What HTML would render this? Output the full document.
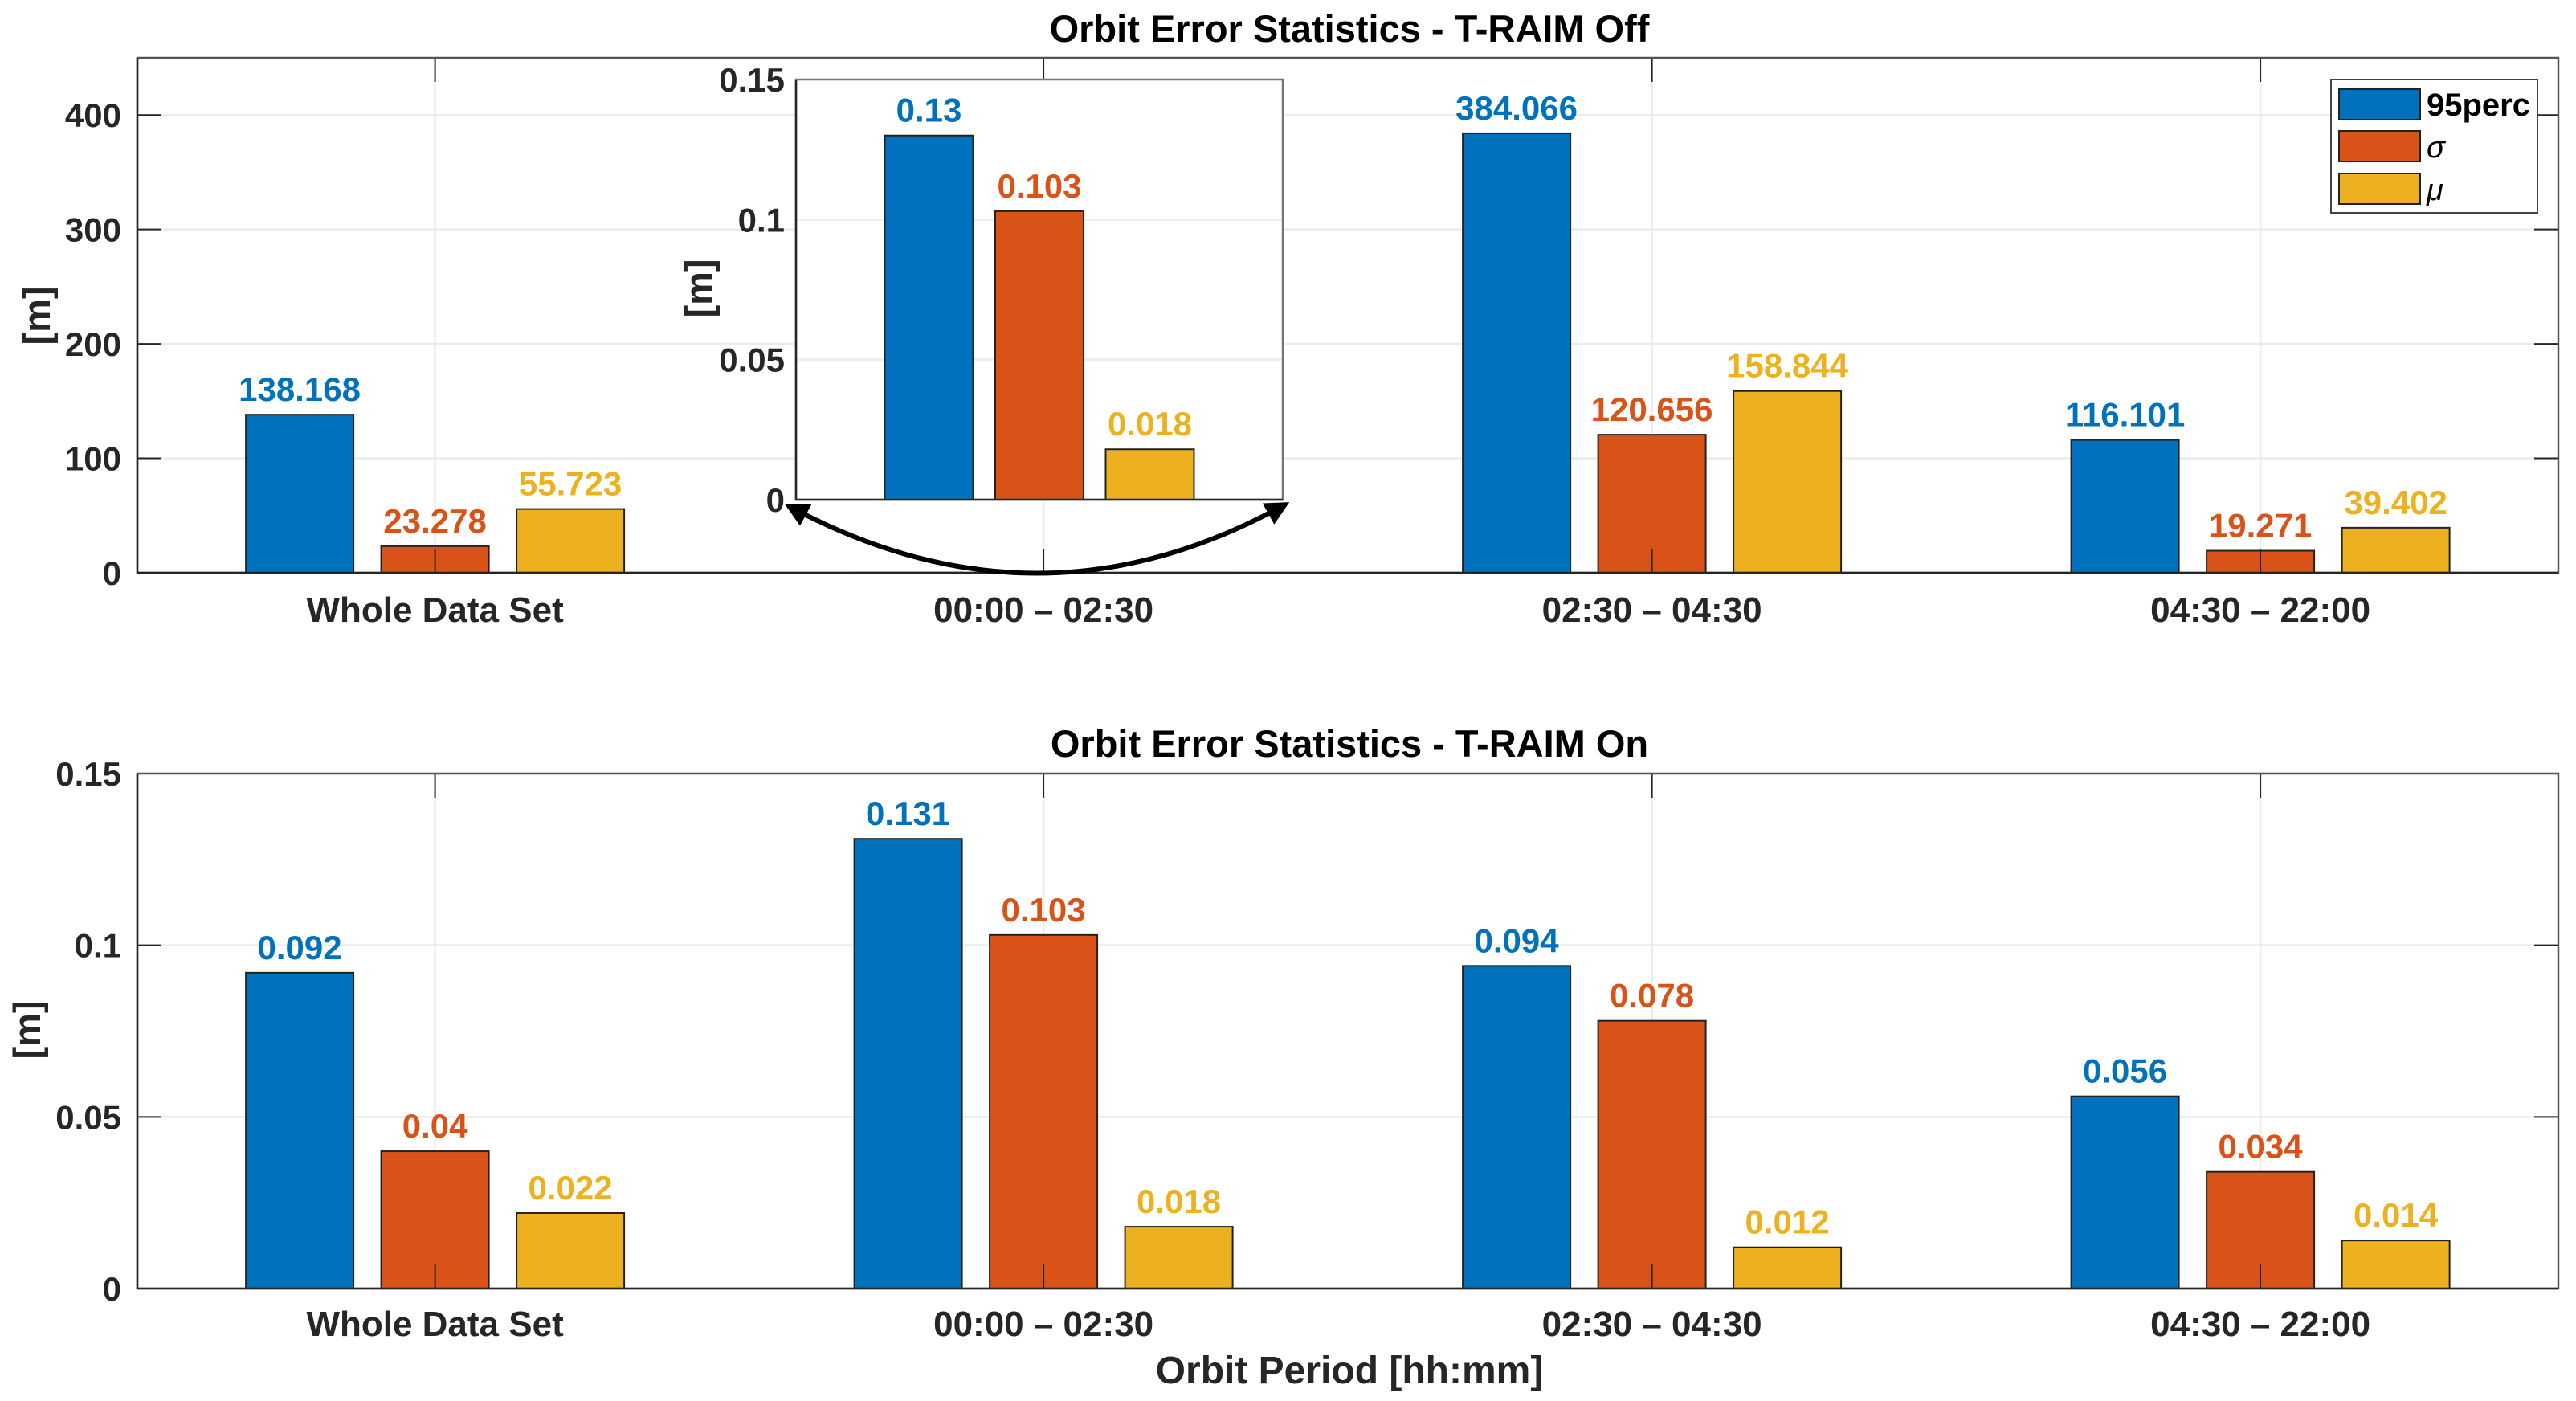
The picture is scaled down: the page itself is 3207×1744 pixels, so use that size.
<!DOCTYPE html>
<html><head><meta charset="utf-8"><style>
html,body{margin:0;padding:0;background:#fff}
svg{display:block;font-family:"Liberation Sans",Arial,sans-serif;font-weight:bold}
</style></head><body>
<svg id="chart" width="3207" height="1744" viewBox="0 0 3207 1744" xmlns="http://www.w3.org/2000/svg">
<defs>
<marker id="ah" viewBox="0 0 10 10" refX="8" refY="5" markerWidth="5" markerHeight="5" orient="auto-start-reverse"><path d="M0,0 L10,5 L0,10 z" fill="#000"/></marker>
</defs>
</svg>
<script>
const categories = ["Whole Data Set","00:00 \u2013 02:30","02:30 \u2013 04:30","04:30 \u2013 22:00"];
const seriesNames = ["95perc","\u03c3","\u03bc"];
const offP95 = [138.168, 0.13, 384.066, 116.101];
const offSigma = [23.278, 0.103, 120.656, 19.271];
const offMu = [55.723, 0.018, 158.844, 39.402];
const offLabelsP95 = ["138.168","","384.066","116.101"];
const offLabelsSigma = ["23.278","","120.656","19.271"];
const offLabelsMu = ["55.723","","158.844","39.402"];
const onP95 = [0.092, 0.131, 0.094, 0.056];
const onSigma = [0.04, 0.103, 0.078, 0.034];
const onMu = [0.022, 0.018, 0.012, 0.014];
const insetValues = [0.13, 0.103, 0.018];
const insetLabels = ["0.13","0.103","0.018"];
const offTicks = [0, 100, 200, 300, 400];
const offTickLabels = ["0","100","200","300","400"];
const onTicks = [0, 0.05, 0.1, 0.15];
const onTickLabels = ["0","0.05","0.1","0.15"];

const colors = ["#0072BD","#D95319","#EDB120"];
const NS = "http://www.w3.org/2000/svg";
const svg = document.getElementById("chart");
function el(tag, attrs, parent, text){
  const e = document.createElementNS(NS, tag);
  for (const k in attrs) e.setAttribute(k, attrs[k]);
  if (text !== undefined) e.textContent = text;
  (parent||svg).appendChild(e);
  return e;
}

function drawAxes(cfg){
  const g = el("g", {});
  
  
  const yS = v => cfg.y0 - (v/cfg.ymax)*(cfg.y0-cfg.y1);
  const xC = i => cfg.c0 + cfg.step*i;
  el("rect",{x:cfg.x0,y:cfg.y1,width:cfg.x1-cfg.x0,height:cfg.y0-cfg.y1,fill:"#fff"},g);
  cfg.ticks.forEach((t,k)=>{
    const y = yS(t);
    if (k>0) { const gl = el("line",{x1:cfg.x0,x2:cfg.x1,y1:y,y2:y,stroke:"#ebebeb","stroke-width":2.5},g);
        }
    const tl = el("text",{x:cfg.tickX,y:y+15,"text-anchor":"end","font-size":42,fill:"#262626"},g,cfg.tickLabels[k]);
    
    
    el("line",{x1:cfg.x0,x2:cfg.x0+cfg.tl,y1:y,y2:y,stroke:"#262626","stroke-width":2},g);
    el("line",{x1:cfg.x1,x2:cfg.x1-cfg.tl,y1:y,y2:y,stroke:"#262626","stroke-width":2},g);
  });
  for (let i=0;i<cfg.n;i++){
    const x = xC(i);
    if (cfg.vgrid){ const vg = el("line",{x1:x,x2:x,y1:cfg.y1,y2:cfg.y0,stroke:"#ebebeb","stroke-width":2.5},g);
        }
  }
  cfg.series.forEach((vals,s)=>{
    vals.forEach((v,i)=>{
      const x = xC(i) + cfg.offs[s] - cfg.bw/2;
      const y = yS(v);
      const r = el("rect",{x:x,y:y,width:cfg.bw,height:cfg.y0-y,fill:colors[s],stroke:"#222","stroke-width":2},g);
      
      
      const lab = cfg.labels[s][i];
      if (lab){
        const t = el("text",{x:xC(i)+cfg.offs[s],y:y-17,"text-anchor":"middle","font-size":42,fill:colors[s]},g,lab);
        
        
      }
    });
  });
  for (let i=0;i<cfg.n;i++){
    const x = xC(i);
    el("line",{x1:x,x2:x,y1:cfg.y1,y2:cfg.y1+cfg.tl,stroke:"#262626","stroke-width":2},g);
    el("line",{x1:x,x2:x,y1:cfg.y0,y2:cfg.y0-cfg.tl,stroke:"#262626","stroke-width":2},g);
    if (cfg.cats){
      const t = el("text",{x:x,y:cfg.catY,"text-anchor":"middle","font-size":44,fill:"#262626"},g,cfg.cats[i]);
      
      
    }
  }
  const fr = el("rect",{x:cfg.x0,y:cfg.y1,width:cfg.x1-cfg.x0,height:cfg.y0-cfg.y1,fill:"none",stroke:cfg.frame||"#555","stroke-width":2.5},g);
  
  
  el("line",{x1:cfg.x0,x2:cfg.x1,y1:cfg.y0,y2:cfg.y0,stroke:"#262626","stroke-width":2.5},g);
  el("line",{x1:cfg.x0,x2:cfg.x0,y1:cfg.y1,y2:cfg.y0,stroke:"#262626","stroke-width":2.5},g);
  return g;
}

drawAxes({name:"top-axes",x0:171,x1:3185,y1:72,y0:713,ymax:450,c0:541.6,step:757.5,n:4,bw:134,offs:[-168.5,0,168.5],
  series:[offP95,offSigma,offMu],labels:[offLabelsP95,offLabelsSigma,offLabelsMu],
  ticks:offTicks,tickLabels:offTickLabels,tickX:151,tl:30,vgrid:true,cats:categories,catY:774});
drawAxes({name:"bottom-axes",x0:171,x1:3185,y1:963,y0:1604,ymax:0.15,c0:541.6,step:757.5,n:4,bw:134,offs:[-168.5,0,168.5],
  series:[onP95,onSigma,onMu],labels:[onP95.map(String),onSigma.map(String),onMu.map(String)],
  ticks:onTicks,tickLabels:onTickLabels,tickX:151,tl:30,vgrid:true,cats:categories,catY:1663});
drawAxes({name:"inset-axes",x0:991,x1:1597,y1:99,y0:622,ymax:0.15,c0:1294,step:0,n:1,bw:110,offs:[-137.5,0,137.5],
  series:[[insetValues[0]],[insetValues[1]],[insetValues[2]]],labels:[[insetLabels[0]],[insetLabels[1]],[insetLabels[2]]],
  ticks:onTicks,tickLabels:onTickLabels,tickX:977,tl:0,vgrid:false,frame:"#777"});

const arr = el("path",{d:"M 982 630 Q 1294 798 1600 628",fill:"none",stroke:"#000","stroke-width":6,"marker-start":"url(#ah)","marker-end":"url(#ah)"});



let t;
t = el("text",{x:1680,y:52,"text-anchor":"middle","font-size":47,fill:"#000"},svg,"Orbit Error Statistics - T-RAIM Off");
 
t = el("text",{x:1680,y:942,"text-anchor":"middle","font-size":47,fill:"#000"},svg,"Orbit Error Statistics - T-RAIM On");
 
t = el("text",{x:1680,y:1722,"text-anchor":"middle","font-size":48,fill:"#262626"},svg,"Orbit Period [hh:mm]");
 
t = el("text",{x:0,y:0,"text-anchor":"middle","font-size":47,fill:"#262626",transform:"translate(62,393) rotate(-90)"},svg,"[m]");
 
t = el("text",{x:0,y:0,"text-anchor":"middle","font-size":47,fill:"#262626",transform:"translate(50,1282) rotate(-90)"},svg,"[m]");
 
t = el("text",{x:0,y:0,"text-anchor":"middle","font-size":47,fill:"#262626",transform:"translate(886,359) rotate(-90)"},svg,"[m]");
 

const lg = el("g",{});


el("rect",{x:2902,y:99,width:257,height:166,fill:"#fff",stroke:"#444","stroke-width":2},lg);
const rowsY = [111,163,216];
seriesNames.forEach((nm,s)=>{
  const sw = el("rect",{x:2912,y:rowsY[s],width:101,height:38,fill:colors[s],stroke:"#222","stroke-width":2},lg);
  
  
  const tx = el("text",{x:3021,y:rowsY[s]+33,"font-size":s===0?40:38,fill:"#000","font-style":s===0?"normal":"italic","font-weight":s===0?"bold":"normal"},lg,nm);
  
  
});
</script>
</body></html>
